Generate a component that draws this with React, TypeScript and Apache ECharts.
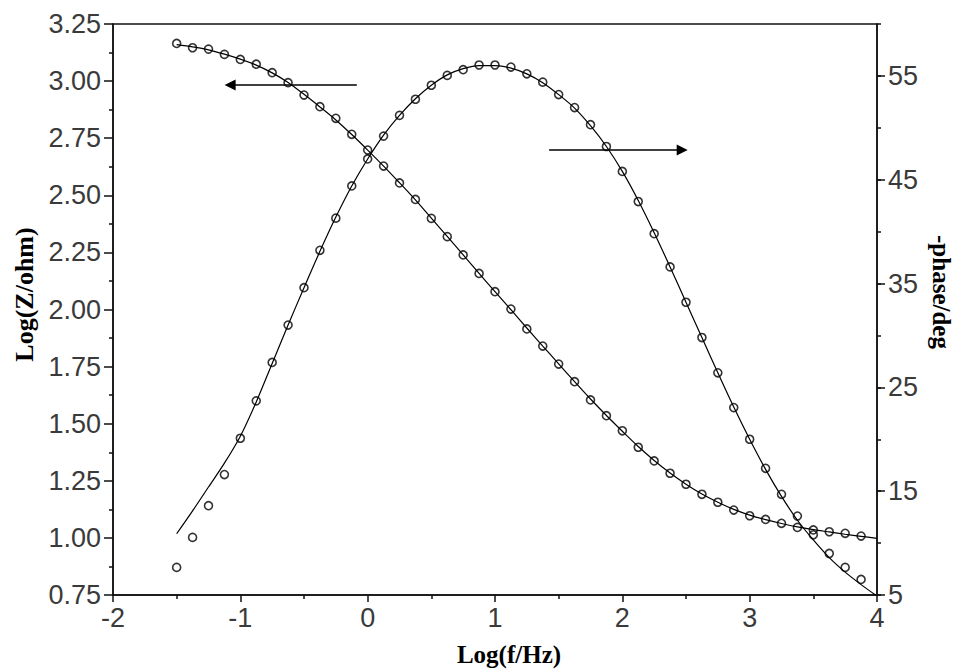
import React, { useEffect, useRef } from "react";
import * as echarts from "echarts";

// log10 of frequency for measured points
const logFreq = [
  -1.5, -1.375, -1.25, -1.125, -1, -0.875, -0.75, -0.625, -0.5, -0.375, -0.25, -0.125,
  0, 0.125, 0.25, 0.375, 0.5, 0.625, 0.75, 0.875, 1, 1.125, 1.25, 1.375, 1.5, 1.625,
  1.75, 1.875, 2, 2.125, 2.25, 2.375, 2.5, 2.625, 2.75, 2.875, 3, 3.125, 3.25, 3.375,
  3.5, 3.625, 3.75, 3.875,
];

// measured log|Z|
const logZData = [
  3.165, 3.146, 3.14, 3.117, 3.095, 3.074, 3.037, 2.993, 2.939, 2.888, 2.837, 2.767,
  2.698, 2.628, 2.554, 2.482, 2.399, 2.319, 2.239, 2.158, 2.078, 2.002, 1.915, 1.84,
  1.761, 1.684, 1.604, 1.535, 1.469, 1.397, 1.337, 1.283, 1.235, 1.191, 1.156, 1.122,
  1.097, 1.081, 1.064, 1.046, 1.035, 1.027, 1.02, 1.008,
];

// measured -phase (deg)
const phaseData = [
  7.66, 10.55, 13.6, 16.6, 20.1, 23.7, 27.4, 31.0, 34.6, 38.2, 41.3, 44.4,
  47.0, 49.2, 51.2, 52.75, 54.1, 55.05, 55.6, 56.05, 56.05, 55.85, 55.2, 54.4,
  53.2, 51.95, 50.3, 48.2, 45.8, 42.9, 39.8, 36.6, 33.2, 29.8, 26.4, 23.05,
  20.0, 17.2, 14.7, 12.6, 10.8, 9.0, 7.66, 6.5,
];

// fitted curves
const fitFreq = [
  -1.5, -1.375, -1.25, -1.125, -1, -0.875, -0.75, -0.625, -0.5, -0.375, -0.25, -0.125,
  0, 0.125, 0.25, 0.375, 0.5, 0.625, 0.75, 0.875, 1, 1.125, 1.25, 1.375, 1.5, 1.625,
  1.75, 1.875, 2, 2.125, 2.25, 2.375, 2.5, 2.625, 2.75, 2.875, 3, 3.125, 3.25, 3.375,
  3.5, 3.625, 3.75, 3.875, 4,
];
const logZFit = [
  3.16, 3.15, 3.137, 3.118, 3.096, 3.07, 3.036, 2.994, 2.942, 2.887, 2.83, 2.766,
  2.698, 2.628, 2.555, 2.48, 2.4, 2.32, 2.239, 2.158, 2.078, 1.999, 1.919, 1.84,
  1.762, 1.684, 1.608, 1.536, 1.467, 1.4, 1.339, 1.284, 1.235, 1.192, 1.156, 1.125,
  1.1, 1.08, 1.063, 1.048, 1.036, 1.026, 1.016, 1.007, 0.998,
];
const phaseFit = [
  10.9, 13.1, 15.4, 17.7, 20.3, 23.6, 27.3, 31.0, 34.6, 38.1, 41.4, 44.4,
  47.0, 49.3, 51.2, 52.8, 54.1, 55.1, 55.7, 56.0, 56.0, 55.75, 55.2, 54.35,
  53.2, 51.9, 50.2, 48.2, 45.8, 43.0, 39.9, 36.6, 33.2, 29.8, 26.4, 23.1,
  20.0, 17.1, 14.5, 12.2, 10.3, 8.6, 7.2, 6.0, 4.9,
];

// arrow annotations (data coordinates: [x, leftAxisValue])
const arrowLeft = [[-0.085, 2.983], [-1.08, 2.983]];
const arrowRight = [[1.425, 2.698], [2.47, 2.698]];

const AXIS_COLOR = "#111";
const LABEL_COLOR = "#3a3a3a";
const LABEL_FONT = "Liberation Sans, Arial, sans-serif";
const NAME_FONT = "Liberation Serif, Times New Roman, serif";

export default function App() {
  const ref = useRef<HTMLDivElement>(null);

  useEffect(() => {
    document.body.style.margin = "0";
    if (!ref.current) return;
    const chart = echarts.init(ref.current, null, { renderer: "svg" });

    const nameStyle = {
      fontFamily: NAME_FONT,
      fontWeight: "bold" as const,
      fontSize: 26,
      color: "#000",
    };
    const labelStyle = {
      fontFamily: LABEL_FONT,
      fontSize: 27,
      color: LABEL_COLOR,
    };
    const lineStyle = { color: AXIS_COLOR, width: 1.5 };

    const pts = (xs: number[], ys: number[]) => xs.map((x, i) => [x, ys[i]]);

    const circle = {
      symbol: "circle",
      symbolSize: 8,
      itemStyle: { color: "rgba(255,255,255,0)", borderColor: "#000", borderWidth: 1.6 },
    };

    const gridRect = {
      left: 113,
      right: 80,
      top: 24,
      bottom: 74,
      containLabel: false,
      outerBoundsMode: "none",
    };

    chart.setOption({
      animation: false,
      grid: [
        { ...gridRect, show: true, borderColor: AXIS_COLOR, borderWidth: 1.5 },
        { ...gridRect, show: false },
      ],
      xAxis: [
        {
          type: "value",
          gridIndex: 0,
          min: -2,
          max: 4,
          interval: 1,
          name: "Log(f/Hz)",
          nameLocation: "middle",
          nameGap: 47,
          nameTextStyle: { ...nameStyle, fontSize: 25, padding: [0, 0, 0, 28] },
          axisLine: { onZero: false, lineStyle },
          axisTick: { length: 7, lineStyle },
          minorTick: { show: true, splitNumber: 2, length: 4, lineStyle },
          axisLabel: { ...labelStyle, margin: 9 },
          splitLine: { show: false },
        },
        {
          type: "value",
          gridIndex: 1,
          min: -2,
          max: 4,
          show: false,
        },
      ],
      yAxis: [
        {
          type: "value",
          gridIndex: 0,
          position: "left",
          min: 0.75,
          max: 3.25,
          interval: 0.25,
          name: "Log(Z/ohm)",
          nameLocation: "middle",
          nameGap: 76,
          nameTextStyle: { ...nameStyle, padding: [0, 0, 0, 30] },
          axisLine: { onZero: false, lineStyle },
          axisTick: { length: 9, lineStyle },
          minorTick: { show: true, splitNumber: 2, length: 4, lineStyle },
          axisLabel: { ...labelStyle, margin: 12, formatter: (v: number) => v.toFixed(2) },
          splitLine: { show: false },
        },
        {
          type: "value",
          gridIndex: 0,
          position: "right",
          min: 5,
          max: 60,
          interval: 5,
          name: "-phase/deg",
          nameLocation: "middle",
          nameRotate: -90,
          nameGap: 50,
          nameTextStyle: { ...nameStyle, fontSize: 25, padding: [0, 35, 0, 0] },
          axisLine: { onZero: false, lineStyle },
          axisTick: { length: 4, lineStyle },
          axisLabel: {
            ...labelStyle,
            margin: 11,
            formatter: (v: number) => ((v - 5) % 10 === 0 && v < 60 ? String(v) : ""),
          },
          splitLine: { show: false },
        },
        {
          // overlay in a twin grid: longer major ticks of the right axis (at 5, 15, ..., 55)
          type: "value",
          gridIndex: 1,
          position: "right",
          min: 0,
          max: 55,
          interval: 10,
          axisLine: { show: false, onZero: false },
          axisTick: { show: true, length: 8, lineStyle, customValues: [0, 10, 20, 30, 40, 50] },
          axisLabel: { show: false },
          splitLine: { show: false },
        },
      ],
      series: [
        {
          type: "line",
          xAxisIndex: 0,
          yAxisIndex: 0,
          data: pts(fitFreq, logZFit),
          showSymbol: false,
          smooth: 0.3,
          lineStyle: { color: "#000", width: 1.2 },
          silent: true,
          z: 2,
          markLine: {
            silent: true,
            symbol: ["none", "triangle"],
            symbolSize: 11,
            label: { show: false },
            lineStyle: { color: "#000", width: 1.6, type: "solid" },
            data: [
              [{ coord: arrowLeft[0] }, { coord: arrowLeft[1] }],
              [{ coord: arrowRight[0] }, { coord: arrowRight[1] }],
            ],
          },
        },
        {
          type: "line",
          xAxisIndex: 0,
          yAxisIndex: 1,
          data: pts(fitFreq, phaseFit),
          showSymbol: false,
          smooth: 0.3,
          lineStyle: { color: "#000", width: 1.2 },
          silent: true,
          z: 2,
        },
        {
          type: "scatter",
          xAxisIndex: 0,
          yAxisIndex: 0,
          data: pts(logFreq, logZData),
          ...circle,
          silent: true,
          z: 3,
        },
        {
          type: "scatter",
          xAxisIndex: 0,
          yAxisIndex: 1,
          data: pts(logFreq, phaseData),
          ...circle,
          silent: true,
          z: 3,
        },
      ],
    });

    return () => chart.dispose();
  }, []);

  return <div ref={ref} style={{ width: 957, height: 669 }} />;
}
